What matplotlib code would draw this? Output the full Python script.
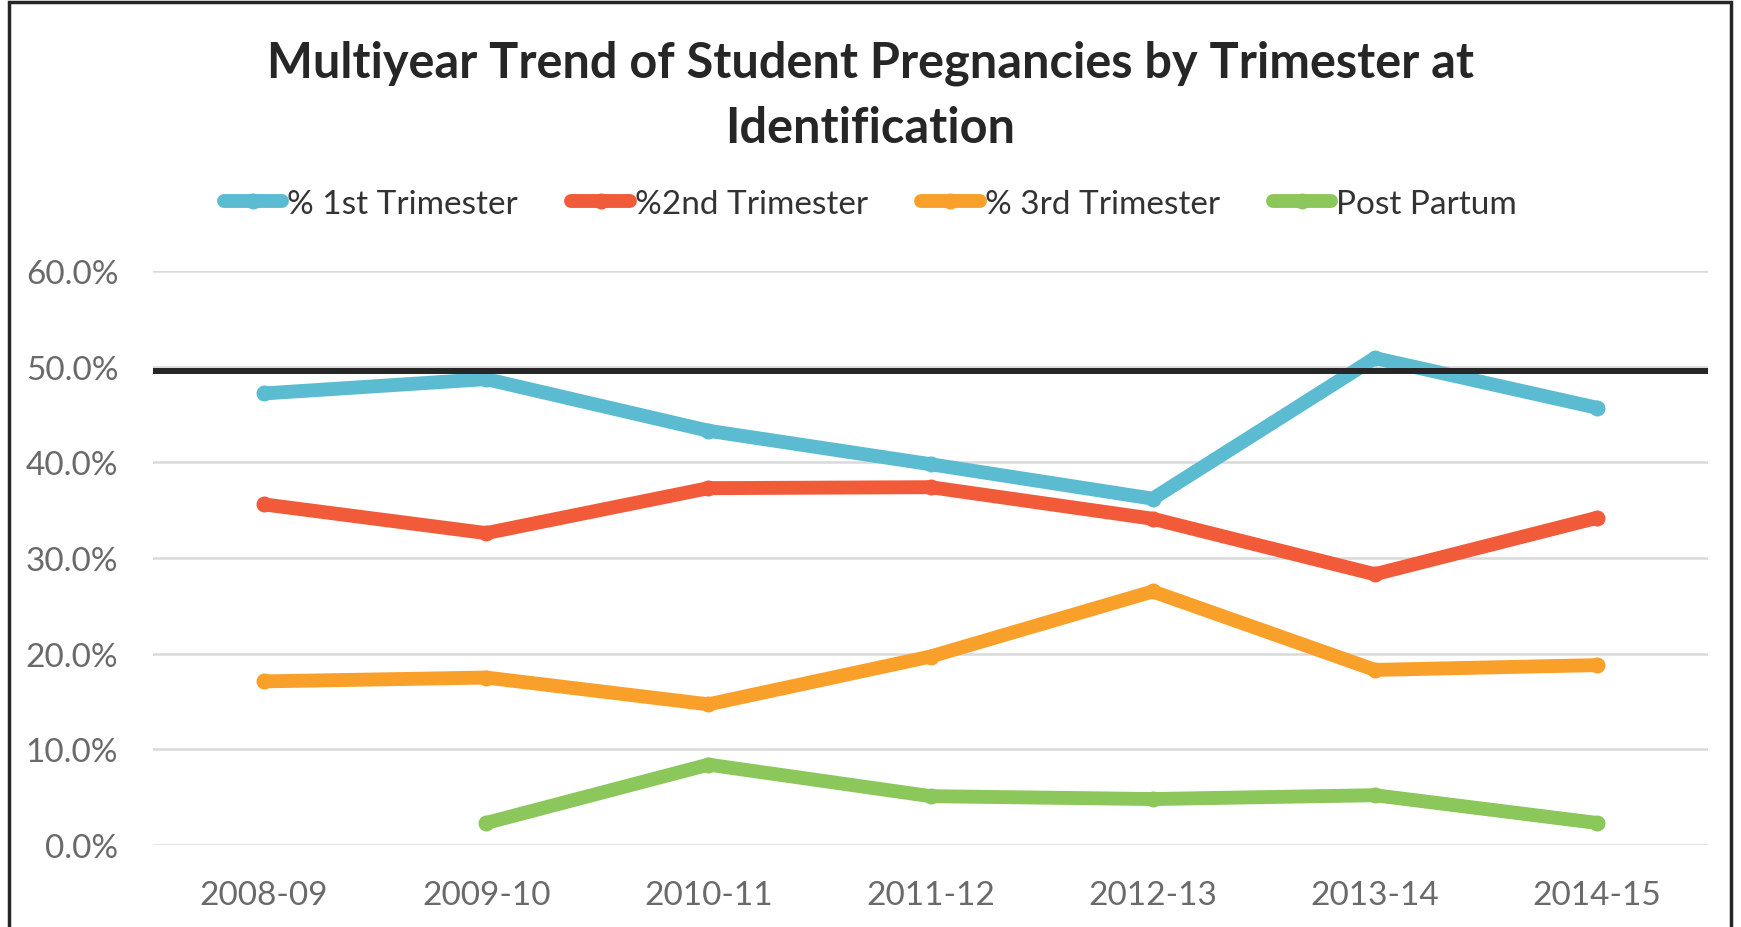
import numpy as np
import matplotlib.pyplot as plt
from matplotlib.lines import Line2D
from matplotlib.patches import Rectangle

# school years on the x axis
years = ['2008-09', '2009-10', '2010-11', '2011-12', '2012-13', '2013-14', '2014-15']

# percent of pregnancies by trimester at identification
first_tri = [47.2, 48.7, 43.3, 39.8, 36.2, 50.9, 45.7]
second_tri = [35.6, 32.6, 37.3, 37.4, 34.1, 28.3, 34.2]
third_tri = [17.1, 17.5, 14.7, 19.7, 26.5, 18.3, 18.8]
post_partum = [np.nan, 2.3, 8.4, 5.1, 4.8, 5.2, 2.3]

series_names = ['% 1st Trimester', '%2nd Trimester', '% 3rd Trimester', 'Post Partum']
target_line = 49.5
y_ticks = [0, 10, 20, 30, 40, 50, 60]

colors = ['#5BBCD1', '#F15B3A', '#F9A02A', '#8BC75A']
font = 'Lato'

fig = plt.figure(figsize=(17.41, 9.28), dpi=100)
ax = fig.add_axes([0.0879, 0.0884, 0.8932, 0.6185])

x = np.arange(len(years))
for vals, c, name in zip([first_tri, second_tri, third_tri, post_partum], colors, series_names):
    ax.plot(x, vals, color=c, lw=10, marker='o', markersize=10.5,
            solid_capstyle='round', solid_joinstyle='round', label=name, zorder=3)

ax.axhline(target_line, color='#262626', lw=4.3, zorder=4)

ax.set_xlim(-0.5, len(years) - 0.5)
ax.set_ylim(0, 60)
ax.set_yticks(y_ticks)
ax.set_yticklabels([f'{v:.1f}%' for v in y_ticks])
ax.set_xticks(x)
ax.set_xticklabels(years)
ax.grid(axis='y', color='#D9D9D9', lw=1.8, zorder=0)
ax.set_axisbelow(True)
for s in ax.spines.values():
    s.set_visible(False)
ax.tick_params(length=0, labelsize=24, colors='#6A6A6A')
ax.tick_params(axis='y', pad=25)
ax.tick_params(axis='x', pad=25)
for lbl in ax.get_xticklabels() + ax.get_yticklabels():
    lbl.set_fontfamily(font)

fig.text(0.5, 0.897, 'Multiyear Trend of Student Pregnancies by Trimester at\nIdentification',
         ha='center', va='center', fontsize=35, fontweight='bold', family=font,
         color='#262626', linespacing=1.55)

handles = [Line2D([0], [0], color=c, lw=10, marker='o', markersize=10.5,
                  solid_capstyle='round') for c in colors]
fig.legend(handles, series_names, loc='center', bbox_to_anchor=(0.5, 0.779), ncol=4,
           frameon=False, prop={'family': font, 'size': 24}, labelcolor='#333333',
           handlelength=1.75, handletextpad=0.15, columnspacing=1.6)

# chart border
fig.patches.append(Rectangle((0.005, -0.01), 0.989, 1.007, transform=fig.transFigure,
                             fill=False, edgecolor='#262626', lw=2.5))

fig.savefig('out.png', dpi=100)
